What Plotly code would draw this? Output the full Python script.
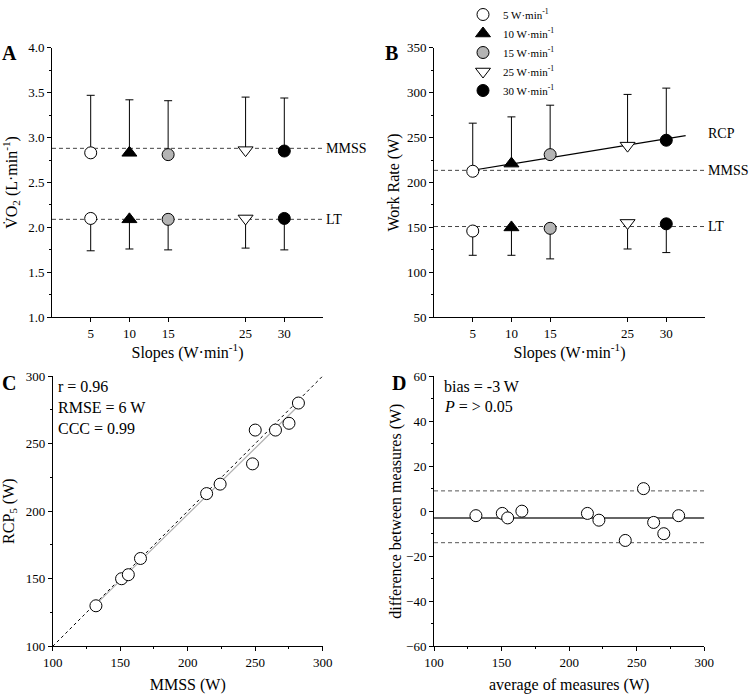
import plotly.graph_objects as go

FONT = "Liberation Serif, Times New Roman, Times, serif"

# ---------------- data ----------------
slopes = [5, 10, 15, 25, 30]
slope_names = ["5 W·min<sup>-1</sup>", "10 W·min<sup>-1</sup>", "15 W·min<sup>-1</sup>",
               "25 W·min<sup>-1</sup>", "30 W·min<sup>-1</sup>"]
slope_ticks = ["5", "10", "15", "25", "30"]
symbols = ["circle", "triangle-up", "circle", "triangle-down", "circle"]
fills = ["white", "black", "#b4b4b4", "white", "black"]
sizes = [12, 13, 12, 13, 12]

# Panel A: VO2 (L/min)
vo2_mmss = [2.83, 2.83, 2.81, 2.86, 2.85]
vo2_mmss_top = [3.47, 3.42, 3.41, 3.45, 3.44]
vo2_lt = [2.10, 2.09, 2.09, 2.10, 2.10]
vo2_lt_low = [1.74, 1.76, 1.75, 1.77, 1.75]
vo2_mmss_ref = 2.88
vo2_lt_ref = 2.09

# Panel B: work rate (W)
wr_rcp = [212.5, 221, 231, 241, 247]
wr_rcp_top = [266, 273, 286, 298, 305]
wr_lt = [146, 150, 149, 155, 154]
wr_lt_low = [119, 119, 115, 126, 122]
wr_mmss_ref = 213.5
wr_lt_ref = 151
rcp_fit_x = [5, 32.5]
rcp_fit_y = [213.6, 252.1]

# Panel C: RCP5 vs MMSS (W)
mmss_w = [132, 151, 156, 165, 214, 224, 248, 250, 265, 275, 282]
rcp5_w = [130, 150, 153, 165, 213, 220, 235, 260, 260, 265, 280]
identity_xy = [100, 300]
c_fit_x = [132, 282]
c_fit_y = [131, 278]

# Panel D: Bland-Altman
avg_w = [131, 150.5, 154.5, 165, 213.5, 222, 241.5, 255, 262.5, 270, 281]
diff_w = [-2, -1, -3, 0, -1, -4, -13, 10, -5, -10, -2]
bias = -3
loa_hi = 9
loa_lo = -14

# ---------------- figure ----------------
fig = go.Figure()

# reference dashed lines A
for yv in (vo2_mmss_ref, vo2_lt_ref):
    fig.add_trace(go.Scatter(x=[0, 35], y=[yv, yv], mode="lines", xaxis="x", yaxis="y",
                             line=dict(color="#444", width=1, dash="4px,3px"),
                             showlegend=False, hoverinfo="skip"))
# reference dashed lines B
for yv in (wr_mmss_ref, wr_lt_ref):
    fig.add_trace(go.Scatter(x=[0, 35], y=[yv, yv], mode="lines", xaxis="x2", yaxis="y2",
                             line=dict(color="#444", width=1, dash="4px,3px"),
                             showlegend=False, hoverinfo="skip"))
# RCP regression B
fig.add_trace(go.Scatter(x=rcp_fit_x, y=rcp_fit_y, mode="lines", xaxis="x2", yaxis="y2",
                         line=dict(color="black", width=1.2), showlegend=False, hoverinfo="skip"))

for i, s in enumerate(slopes):
    mk = dict(symbol=symbols[i], size=sizes[i], color=fills[i], line=dict(color="black", width=1))
    # A upper
    fig.add_trace(go.Scatter(x=[s], y=[vo2_mmss[i]], mode="markers", xaxis="x", yaxis="y",
                             marker=mk, showlegend=False, legendgroup=str(s),
                             error_y=dict(type="data", symmetric=False,
                                          array=[vo2_mmss_top[i] - vo2_mmss[i]], arrayminus=[0],
                                          color="black", thickness=1, width=4)))
    # A lower
    fig.add_trace(go.Scatter(x=[s], y=[vo2_lt[i]], mode="markers", xaxis="x", yaxis="y",
                             marker=mk, showlegend=False, legendgroup=str(s),
                             error_y=dict(type="data", symmetric=False,
                                          array=[0], arrayminus=[vo2_lt[i] - vo2_lt_low[i]],
                                          color="black", thickness=1, width=4)))
    # B upper
    fig.add_trace(go.Scatter(x=[s], y=[wr_rcp[i]], mode="markers", xaxis="x2", yaxis="y2",
                             marker=mk, name=slope_names[i], showlegend=True, legendgroup=str(s),
                             error_y=dict(type="data", symmetric=False,
                                          array=[wr_rcp_top[i] - wr_rcp[i]], arrayminus=[0],
                                          color="black", thickness=1, width=4)))
    # B lower
    fig.add_trace(go.Scatter(x=[s], y=[wr_lt[i]], mode="markers", xaxis="x2", yaxis="y2",
                             marker=mk, showlegend=False, legendgroup=str(s),
                             error_y=dict(type="data", symmetric=False,
                                          array=[0], arrayminus=[wr_lt[i] - wr_lt_low[i]],
                                          color="black", thickness=1, width=4)))

# Panel C
fig.add_trace(go.Scatter(x=identity_xy, y=identity_xy, mode="lines", xaxis="x3", yaxis="y3",
                         line=dict(color="black", width=1, dash="3px,3px"),
                         showlegend=False, hoverinfo="skip"))
fig.add_trace(go.Scatter(x=c_fit_x, y=c_fit_y, mode="lines", xaxis="x3", yaxis="y3",
                         line=dict(color="#b0b0b0", width=1.2), showlegend=False, hoverinfo="skip"))
fig.add_trace(go.Scatter(x=mmss_w, y=rcp5_w, mode="markers", xaxis="x3", yaxis="y3",
                         marker=dict(symbol="circle", size=12, color="white",
                                     line=dict(color="black", width=1)),
                         showlegend=False))

# Panel D
for yv, dash, col, w in ((loa_hi, "4px,3px", "#555", 1), (loa_lo, "4px,3px", "#555", 1),
                         (bias, "solid", "#333", 1.5)):
    fig.add_trace(go.Scatter(x=[100, 300], y=[yv, yv], mode="lines", xaxis="x4", yaxis="y4",
                             line=dict(color=col, width=w, dash=dash),
                             showlegend=False, hoverinfo="skip"))
fig.add_trace(go.Scatter(x=avg_w, y=diff_w, mode="markers", xaxis="x4", yaxis="y4",
                         marker=dict(symbol="circle", size=12, color="white",
                                     line=dict(color="black", width=1)),
                         showlegend=False))

# ---------------- axes ----------------
tickfont = dict(family=FONT, size=13, color="black")
titlefont = dict(family=FONT, size=16, color="black")

def ax(title, standoff, **kw):
    d = dict(showline=True, linecolor="black", linewidth=1, ticks="outside", ticklen=4,
             tickwidth=1, tickcolor="black", showgrid=False, zeroline=False,
             tickfont=tickfont, automargin=False, mirror=False,
             title=dict(text=title, standoff=standoff, font=titlefont))
    d.update(kw)
    return d

minor = lambda dt: dict(ticks="outside", ticklen=2, tickcolor="black", dtick=dt, showgrid=False)

yA = [0.5428, 0.9313]
yC = [0.0687, 0.4582]

fig.update_layout(
    xaxis=ax("Slopes (W·min<sup>-1</sup>)", 4, domain=[0.0693, 0.4307], range=[0, 35],
             tickmode="array", tickvals=slopes, ticktext=slope_ticks, anchor="y"),
    yaxis=ax("V\u0307O<sub>2</sub> (L·min<sup>-1</sup>)", 8, domain=yA, range=[1.0, 4.0],
             dtick=0.5, tickformat=".1f", anchor="x", minor=minor(0.25)),
    xaxis2=ax("Slopes (W·min<sup>-1</sup>)", 4, domain=[0.5787, 0.9400], range=[0, 35],
              tickmode="array", tickvals=slopes, ticktext=slope_ticks, anchor="y2"),
    yaxis2=ax("Work Rate (W)", 3, domain=yA, range=[50, 350], dtick=50, anchor="x2",
              minor=minor(25)),
    xaxis3=ax("MMSS (W)", 11, domain=[0.0703, 0.4303], range=[100, 300], dtick=50,
              anchor="y3", minor=minor(25)),
    yaxis3=ax("RCP<sub>5</sub> (W)", 8, domain=yC, range=[100, 300], dtick=50, anchor="x3",
              minor=minor(25)),
    xaxis4=ax("average of measures (W)", 11, domain=[0.5787, 0.9391], range=[100, 300],
              dtick=50, anchor="y4", minor=minor(25)),
    yaxis4=ax("difference between measures (W)", 0, domain=yC, range=[-60, 60], dtick=20,
              anchor="x4", minor=minor(10)),
)

W, H = 750, 694

def px(x, y):
    return x / W, 1 - y / H

annos = []
for letter, (xx, yy) in zip("ABCD", [(9.5, 53), (391, 53), (8.5, 383), (399, 383)]):
    X, Y = px(xx, yy)
    annos.append(dict(text=f"<b>{letter}</b>", x=X, y=Y, xref="paper", yref="paper",
                      xanchor="center", yanchor="middle", showarrow=False,
                      font=dict(family=FONT, size=20, color="black")))

lab_font = dict(family=FONT, size=14, color="black")
for txt, yv in (("MMSS", vo2_mmss_ref), ("LT", vo2_lt_ref)):
    annos.append(dict(text=txt, x=1.0, y=yv, xref="x domain", yref="y", xanchor="left",
                      xshift=1, yanchor="middle", showarrow=False, font=lab_font))
for txt, yv in (("RCP", 254), ("MMSS", wr_mmss_ref), ("LT", wr_lt_ref)):
    annos.append(dict(text=txt, x=1.0, y=yv, xref="x2 domain", yref="y2", xanchor="left",
                      xshift=1, yanchor="middle", showarrow=False, font=lab_font))

stat_font = dict(family=FONT, size=16, color="black")
for txt, yy in (("r = 0.96", 386), ("RMSE = 6 W", 407), ("CCC = 0.99", 428)):
    X, Y = px(56, yy)
    annos.append(dict(text=txt, x=X, y=Y, xref="paper", yref="paper", xanchor="left",
                      yanchor="middle", showarrow=False, font=stat_font))
for txt, yy in (("bias = -3 W", 386), ("<i>P</i> = > 0.05", 406)):
    X, Y = px(442, yy)
    annos.append(dict(text=txt, x=X, y=Y, xref="paper", yref="paper", xanchor="left",
                      yanchor="middle", showarrow=False, font=stat_font))

fig.update_layout(
    annotations=annos,
    width=W, height=H,
    margin=dict(l=0, r=0, t=0, b=0),
    paper_bgcolor="white", plot_bgcolor="white",
    font=dict(family=FONT, color="black"),
    legend=dict(x=463 / W, y=1.0, xanchor="left", yanchor="top",
                font=dict(family=FONT, size=11, color="black"),
                bgcolor="rgba(0,0,0,0)", borderwidth=0, traceorder="normal",
                tracegroupgap=0, itemwidth=30),
    showlegend=True,
)

fig.write_html("out.html", config={"displayModeBar": False},
               post_script="document.body.style.margin='0';document.body.style.overflow='hidden';")
